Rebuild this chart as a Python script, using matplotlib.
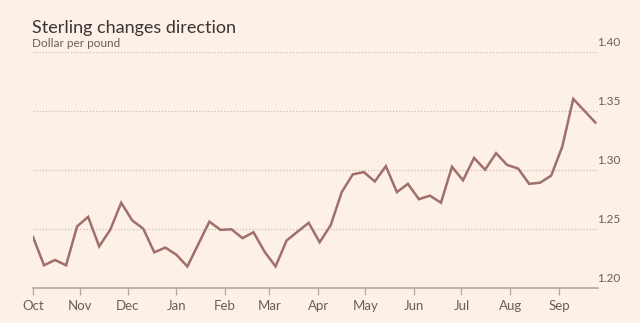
import matplotlib
matplotlib.use('Agg')
import matplotlib.pyplot as plt
import matplotlib.transforms as mtransforms
import pandas as pd

plt.rcParams['font.family'] = ['Lato', 'DejaVu Sans']

# weekly dollar per pound
dates = pd.date_range('2016-10-02', periods=52, freq='7D')
rate = [1.243, 1.219, 1.2235, 1.219, 1.252, 1.260, 1.235, 1.249, 1.272, 1.257,
        1.250, 1.230, 1.234, 1.228, 1.218, 1.237, 1.256, 1.249, 1.2495, 1.242,
        1.247, 1.2305, 1.218, 1.240, 1.2475, 1.255, 1.2385, 1.253, 1.281, 1.296,
        1.298, 1.290, 1.303, 1.281, 1.288, 1.275, 1.278, 1.272, 1.3025, 1.291,
        1.310, 1.300, 1.314, 1.304, 1.301, 1.288, 1.289, 1.295, 1.3195, 1.360,
        1.350, 1.340]
month_ticks = ['2016-10-02', '2016-11-01', '2016-12-01', '2017-01-01', '2017-02-01',
               '2017-03-01', '2017-04-01', '2017-05-01', '2017-06-01', '2017-07-01',
               '2017-08-01', '2017-09-01']
month_labels = ['Oct', 'Nov', 'Dec', 'Jan', 'Feb', 'Mar', 'Apr', 'May', 'Jun', 'Jul', 'Aug', 'Sep']
y_ticks = [1.20, 1.25, 1.30, 1.35, 1.40]

bg = '#fdf0e6'
fig = plt.figure(figsize=(6.4, 3.23), dpi=100, facecolor=bg)
ax = fig.add_axes([33/640, 1 - 287.7/323, 565/640, 236/323])
ax.set_facecolor(bg)

ax.plot(dates, rate, color='#a06f6c', lw=1.8, solid_joinstyle='miter', zorder=3)

ax.set_xlim(dates[0], dates[0] + pd.Timedelta(days=358.7))
ax.set_ylim(1.20, 1.40)

# dotted gridlines
for v in y_ticks[1:]:
    ax.axhline(v, color='#cdbfb6', lw=0.9, ls=(0, (1, 1.5)), zorder=1)

for s in ['top', 'right', 'left']:
    ax.spines[s].set_visible(False)
ax.spines['bottom'].set_color('#b3a69d')
ax.spines['bottom'].set_linewidth(1.2)

ax.set_yticks([])
ax.set_xticks(pd.to_datetime(month_ticks))
ax.set_xticklabels(month_labels)
ax.tick_params(axis='x', length=5, width=0.9, color='#b3a69d', labelsize=9.5,
               labelcolor='#66605c', pad=3.5)

trans = mtransforms.blended_transform_factory(ax.transAxes, ax.transData)
for v in y_ticks:
    ax.text(1.039, v + 0.0028, f'{v:.2f}', transform=trans, ha='right', va='bottom',
            fontsize=8.5, color='#66605c')

fig.text(32/640, 1 - 33/323, 'Sterling changes direction', fontsize=13,
         color='#3a3532', ha='left', va='baseline')
fig.text(32/640, 1 - 47/323, 'Dollar per pound', fontsize=8.5,
         color='#66605c', ha='left', va='baseline')

fig.savefig('out.png', dpi=100, facecolor=bg)
